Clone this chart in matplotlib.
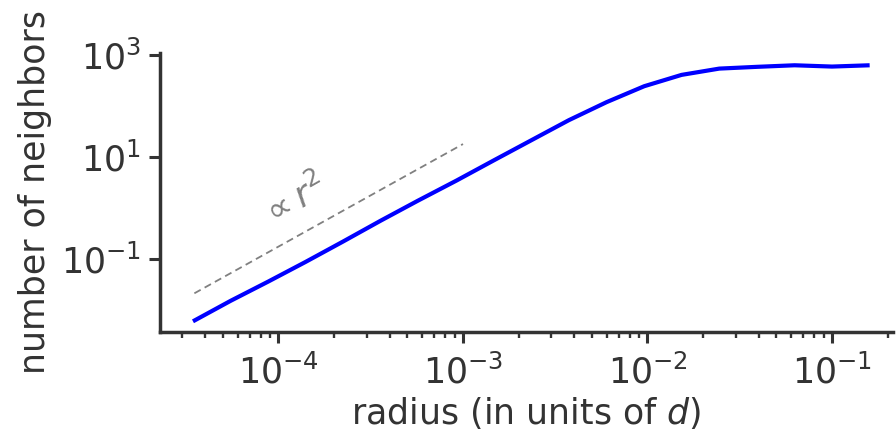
import matplotlib
matplotlib.use("Agg")
import matplotlib.pyplot as plt
from matplotlib.ticker import LogLocator, NullLocator, FixedLocator

# radius (in units of d)
radius = [3.44e-5, 5.5e-5, 8.8e-5, 1.40e-4, 2.24e-4, 3.58e-4, 5.7e-4, 9.2e-4,
          1.47e-3, 2.34e-3, 3.75e-3, 6.0e-3, 9.6e-3, 1.53e-2, 2.45e-2,
          3.92e-2, 6.27e-2, 1.00e-1, 1.60e-1]
# number of neighbors
neighbors = [0.0060, 0.0151, 0.036, 0.087, 0.219, 0.56, 1.38, 3.4,
             8.5, 20.9, 52, 117, 240, 400, 531, 575, 617, 582, 617]

# reference r^2 guide line
ref_r = [3.5e-5, 1.0e-3]
ref_n = [0.0212, 17.7]
ref_label = r"$\propto r^2$"

xlabel = r"radius (in units of $d$)"
ylabel = "number of neighbors"
yticks = [1e-1, 1e1, 1e3]

text_color = "#333333"
plt.rcParams["font.family"] = ["DejaVu Sans"]
plt.rcParams["mathtext.fontset"] = "dejavusans"

fig = plt.figure(figsize=(8.96, 4.34), dpi=100)
ax = fig.add_axes([0.1786, 0.235, 0.818, 0.644])

ax.plot(radius, neighbors, color="blue", lw=3.0, solid_capstyle="butt")
ax.plot(ref_r, ref_n, color="gray", lw=1.3, ls=(0, (4, 2.5)))

ax.set_xscale("log")
ax.set_yscale("log")
ax.set_xlim(2.28e-5, 0.214)
ax.set_ylim(10**-2.431, 10**3.04)

ax.yaxis.set_major_locator(FixedLocator(yticks))
ax.yaxis.set_minor_locator(NullLocator())
ax.xaxis.set_major_locator(LogLocator(base=10, numticks=20))
ax.xaxis.set_minor_locator(LogLocator(base=10, subs=range(2, 10), numticks=20))

for s in ["top", "right"]:
    ax.spines[s].set_visible(False)
for s in ["left", "bottom"]:
    ax.spines[s].set_linewidth(2.5)
    ax.spines[s].set_color(text_color)

ax.tick_params(which="major", length=8, width=2.2, color=text_color,
               labelsize=25, labelcolor=text_color, pad=6)
ax.tick_params(axis="x", which="major", pad=8)
ax.tick_params(which="minor", length=4.5, width=1.7, color=text_color)

ax.set_xlabel(xlabel, fontsize=25, color=text_color, labelpad=3)
ax.set_ylabel(ylabel, fontsize=25, color=text_color, labelpad=6)

ax.text(1.21e-4, 1.3, ref_label, color="gray", fontsize=25,
        rotation=29.5, ha="center", va="center", rotation_mode="anchor")

fig.savefig("out.png", dpi=100)
